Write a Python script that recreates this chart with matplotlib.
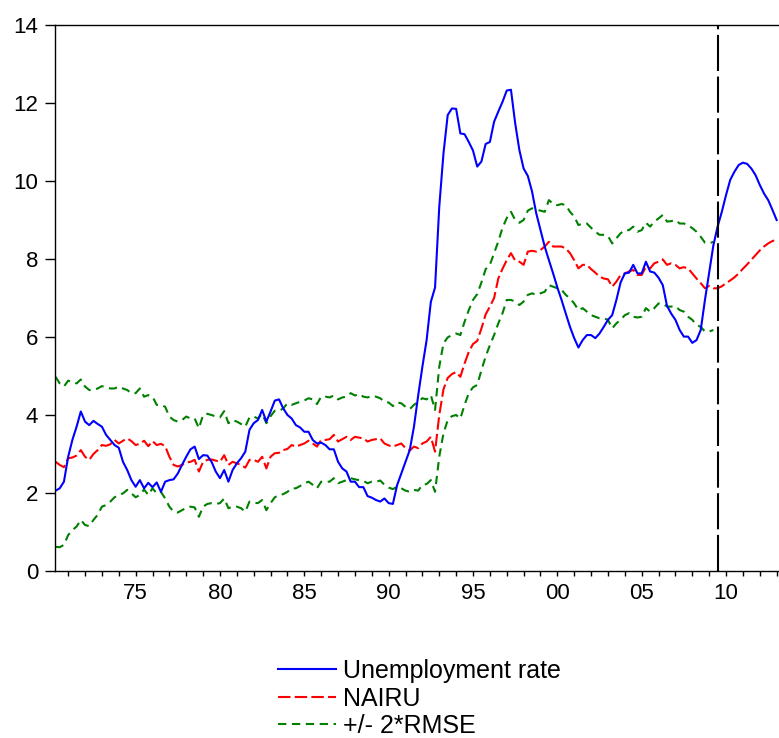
import numpy as np
import matplotlib
matplotlib.use("Agg")
import matplotlib.pyplot as plt

plt.rcParams['font.family'] = ['Liberation Sans', 'DejaVu Sans']
plt.rcParams['lines.scale_dashes'] = False

# quarterly data, 1970Q2 .. 2013Q1
start_year = 1970.25
unemployment = [
    2.06, 2.12, 2.29,
    2.93, 3.36, 3.70, 4.09,
    3.83, 3.74, 3.85, 3.77,
    3.70, 3.49, 3.36, 3.23,
    3.16, 2.80, 2.59, 2.33,
    2.16, 2.33, 2.12, 2.26,
    2.15, 2.27, 2.03, 2.29,
    2.33, 2.35, 2.50, 2.72,
    2.93, 3.12, 3.19, 2.87,
    2.97, 2.96, 2.80, 2.55,
    2.38, 2.59, 2.29, 2.59,
    2.76, 2.89, 3.06, 3.62,
    3.79, 3.87, 4.13, 3.83,
    4.09, 4.37, 4.40, 4.17,
    4.00, 3.91, 3.74, 3.68,
    3.57, 3.57, 3.36, 3.27,
    3.29, 3.23, 3.12, 3.12,
    2.80, 2.63, 2.55, 2.29,
    2.29, 2.15, 2.15, 1.92,
    1.88, 1.82, 1.78, 1.86,
    1.74, 1.72, 2.20, 2.50,
    2.80, 3.10, 3.70, 4.50,
    5.24, 5.92, 6.90, 7.27,
    9.34, 10.71, 11.69, 11.86,
    11.85, 11.22, 11.20, 11.00,
    10.78, 10.37, 10.50, 10.95,
    11.00, 11.52, 11.78, 12.03,
    12.32, 12.34, 11.48, 10.79,
    10.32, 10.13, 9.73, 9.17,
    8.74, 8.32, 7.97, 7.63,
    7.27, 6.95, 6.60, 6.26,
    5.97, 5.73, 5.92, 6.05,
    6.05, 5.97, 6.09, 6.26,
    6.44, 6.56, 6.95, 7.40,
    7.63, 7.65, 7.85, 7.63,
    7.63, 7.93, 7.68, 7.65,
    7.52, 7.33, 6.80, 6.60,
    6.44, 6.18, 6.01, 6.01,
    5.85, 5.92, 6.18, 6.95,
    7.65, 8.35, 8.83, 9.21,
    9.64, 10.03, 10.24, 10.41,
    10.47, 10.44, 10.32, 10.15,
    9.90, 9.68, 9.51, 9.26,
    9.00,
]

nairu = [
    2.80, 2.72, 2.66,
    2.89, 2.91, 2.96, 3.10,
    2.93, 2.85, 3.00, 3.10,
    3.23, 3.21, 3.25, 3.36,
    3.27, 3.34, 3.40, 3.33,
    3.23, 3.26, 3.34, 3.20,
    3.33, 3.23, 3.26, 3.20,
    2.93, 2.72, 2.68, 2.72,
    2.78, 2.80, 2.85, 2.55,
    2.80, 2.85, 2.86, 2.83,
    2.80, 2.97, 2.72, 2.80,
    2.76, 2.72, 2.65, 2.85,
    2.85, 2.80, 2.93, 2.63,
    2.93, 3.02, 3.03, 3.10,
    3.13, 3.23, 3.19, 3.23,
    3.27, 3.34, 3.27, 3.19,
    3.36, 3.36, 3.38, 3.49,
    3.32, 3.38, 3.44, 3.36,
    3.44, 3.42, 3.40, 3.32,
    3.36, 3.38, 3.40, 3.27,
    3.22, 3.19, 3.23, 3.27,
    3.15, 3.09, 3.19, 3.15,
    3.27, 3.32, 3.44, 3.06,
    4.00, 4.66, 4.95, 5.05,
    5.10, 4.98, 5.32, 5.62,
    5.82, 5.90, 6.22, 6.58,
    6.78, 7.00, 7.50, 7.75,
    7.97, 8.15, 7.96, 7.93,
    7.85, 8.19, 8.21, 8.19,
    8.23, 8.32, 8.44, 8.32,
    8.32, 8.32, 8.27, 8.15,
    7.97, 7.76, 7.85, 7.85,
    7.74, 7.65, 7.55, 7.50,
    7.48, 7.29, 7.42, 7.59,
    7.63, 7.68, 7.72, 7.59,
    7.59, 7.80, 7.76, 7.89,
    7.93, 7.99, 7.85, 7.89,
    7.85, 7.76, 7.79, 7.76,
    7.63, 7.50, 7.38, 7.25,
    7.31, 7.25, 7.25, 7.30,
    7.38, 7.45, 7.53, 7.63,
    7.75, 7.86, 7.98, 8.10,
    8.22, 8.32, 8.40, 8.46,
    8.50,
]

# +/- 2*RMSE band, 1970Q2 .. 2009Q2
band_upper = [
    4.98, 4.81, 4.73,
    4.88, 4.85, 4.81, 4.91,
    4.73, 4.64, 4.64, 4.68,
    4.74, 4.71, 4.68, 4.68,
    4.73, 4.68, 4.64, 4.56,
    4.56, 4.68, 4.47, 4.51,
    4.47, 4.26, 4.26, 4.21,
    3.96, 3.87, 3.83, 3.87,
    3.96, 3.91, 3.91, 3.66,
    4.00, 4.03, 4.00, 3.96,
    3.94, 4.10, 3.79, 3.87,
    3.83, 3.77, 3.70, 3.94,
    3.96, 3.91, 4.03, 3.79,
    3.97, 4.11, 4.10, 4.17,
    4.30, 4.26, 4.30, 4.34,
    4.37, 4.43, 4.40, 4.28,
    4.47, 4.47, 4.45, 4.50,
    4.40, 4.45, 4.47, 4.56,
    4.50, 4.54, 4.47, 4.45,
    4.49, 4.47, 4.43, 4.34,
    4.32, 4.23, 4.32, 4.30,
    4.21, 4.15, 4.26, 4.34,
    4.43, 4.40, 4.51, 4.13,
    5.24, 5.84, 5.99, 6.05,
    6.09, 6.05, 6.39, 6.69,
    6.95, 7.10, 7.40, 7.74,
    7.85, 8.15, 8.45, 8.80,
    9.05, 9.21, 9.00, 8.93,
    9.00, 9.24, 9.30, 9.27,
    9.24, 9.21, 9.51, 9.41,
    9.38, 9.41, 9.38, 9.21,
    9.09, 8.87, 8.91, 8.91,
    8.80, 8.70, 8.62, 8.62,
    8.59, 8.40, 8.53, 8.66,
    8.74, 8.74, 8.83, 8.70,
    8.74, 8.93, 8.83, 8.96,
    9.04, 9.13, 8.96, 8.97,
    9.00, 8.91, 8.91, 8.87,
    8.79, 8.70, 8.57, 8.42,
    8.40, 8.44,
]

band_lower = [
    0.62, 0.61, 0.67,
    0.92, 1.05, 1.14, 1.31,
    1.18, 1.15, 1.31, 1.44,
    1.65, 1.69, 1.78, 1.89,
    1.95, 1.99, 2.08, 1.99,
    1.89, 1.95, 2.09, 1.95,
    2.12, 1.99, 2.03, 1.86,
    1.65, 1.52, 1.50, 1.56,
    1.62, 1.65, 1.63, 1.39,
    1.65, 1.72, 1.74, 1.72,
    1.74, 1.86, 1.61, 1.65,
    1.65, 1.61, 1.52, 1.78,
    1.75, 1.74, 1.82, 1.56,
    1.74, 1.89, 1.95, 1.97,
    2.03, 2.12, 2.12, 2.18,
    2.25, 2.29, 2.21, 2.12,
    2.29, 2.29, 2.29, 2.38,
    2.25, 2.29, 2.33, 2.38,
    2.35, 2.33, 2.31, 2.25,
    2.29, 2.29, 2.32, 2.21,
    2.14, 2.10, 2.16, 2.12,
    2.06, 2.03, 2.08, 2.06,
    2.21, 2.23, 2.33, 2.03,
    2.93, 3.53, 3.87, 3.97,
    4.00, 3.91, 4.26, 4.56,
    4.71, 4.77, 5.15, 5.50,
    5.79, 6.05, 6.35, 6.61,
    6.95, 6.95, 6.91, 6.82,
    6.91, 7.08, 7.12, 7.08,
    7.12, 7.16, 7.33, 7.29,
    7.25, 7.21, 7.08, 6.99,
    6.86, 6.69, 6.74, 6.65,
    6.56, 6.52, 6.48, 6.48,
    6.44, 6.22, 6.35, 6.44,
    6.56, 6.61, 6.52, 6.50,
    6.52, 6.74, 6.65, 6.74,
    6.86, 6.86, 6.78, 6.78,
    6.79, 6.69, 6.65, 6.52,
    6.44, 6.31, 6.26, 6.14,
    6.14, 6.18,
]

forecast_start = 2009.5
tick_years = [1975, 1980, 1985, 1990, 1995, 2000, 2005, 2010]
tick_labels = ['75', '80', '85', '90', '95', '00', '05', '10']

t_full = start_year + 0.25 * np.arange(len(unemployment))
t_band = start_year + 0.25 * np.arange(len(band_upper))

fig = plt.figure(figsize=(7.79, 7.38), dpi=100)
ax = fig.add_axes([55 / 779, 167 / 738, 724 / 779, 546 / 738])

blue = '#0000ff'
red = '#ff0000'
green = '#008000'
lw = 1.5

ax.plot(t_band, band_upper, color=green, lw=lw, dashes=(6, 4))
ax.plot(t_band, band_lower, color=green, lw=lw, dashes=(6, 4))
ax.plot(t_full, nairu, color=red, lw=lw, dashes=(9, 3))
ax.plot(t_full, unemployment, color=blue, lw=lw)
ax.axvline(forecast_start, color='black', lw=1.5, dashes=(26, 4))

ax.set_xlim(1970.22, 2013.14)
ax.set_ylim(0, 14)
ax.set_yticks(range(0, 15, 2))
ax.set_xticks(tick_years)
ax.set_xticklabels(tick_labels)
ax.set_xticks(range(1971, 2014), minor=True)

ax.spines['right'].set_visible(False)
for s in ['left', 'top', 'bottom']:
    ax.spines[s].set_linewidth(1.0)
ax.tick_params(axis='y', direction='out', length=7, width=1.0, labelsize=16, pad=5)
ax.tick_params(axis='x', which='both', direction='out', length=3.6, width=1.0,
               labelsize=16, pad=5, top=False)

# legend below the plot
handles = [
    plt.Line2D([], [], color=blue, lw=lw),
    plt.Line2D([], [], color=red, lw=lw, dashes=(9, 3)),
    plt.Line2D([], [], color=green, lw=lw, dashes=(6, 4)),
]
fig.legend(handles, ['Unemployment rate', 'NAIRU', '+/- 2*RMSE'],
           loc='upper left', bbox_to_anchor=(278 / 779, 1 - 659 / 738),
           frameon=False, fontsize=18, handlelength=2.3, handletextpad=0.3,
           labelspacing=0.14, borderpad=0, borderaxespad=0)

fig.savefig('out.png', dpi=100)
